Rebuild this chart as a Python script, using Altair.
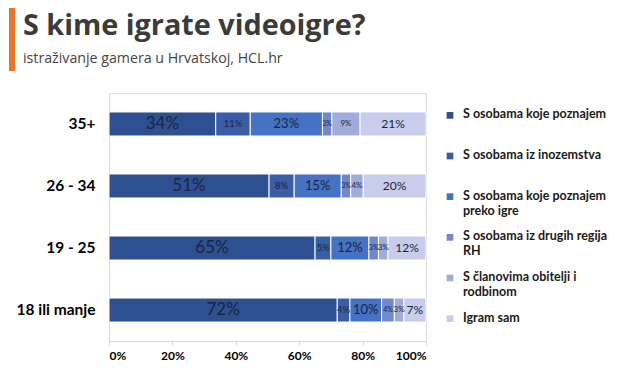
import altair as alt
import pandas as pd

title_text = "S kime igrate videoigre?"
subtitle_text = "istraživanje gamera u Hrvatskoj, HCL.hr"

ages = ["35+", "26 - 34", "19 - 25", "18 ili manje"]
series = [
    "S osobama koje poznajem",
    "S osobama iz inozemstva",
    "S osobama koje poznajem\npreko igre",
    "S osobama iz drugih regija\nRH",
    "S članovima obitelji i\nrodbinom",
    "Igram sam",
]
colors = ["#2E5090", "#3A5EA6", "#4472C4", "#7189CC", "#A0ACDA", "#C7CDEA"]
label_sizes = [17, 9.5, 13, 7, 8, 12]

v_35 = [34, 11, 23, 3, 9, 21]
v_26 = [51, 8, 15, 3, 4, 20]
v_19 = [65, 5, 12, 3, 3, 12]
v_18 = [72, 4, 10, 4, 3, 7]
values = [v_35, v_26, v_19, v_18]

rows = []
for a, vals in zip(ages, values):
    for i, (s, v) in enumerate(zip(series, vals)):
        rows.append({"age": a, "series": s, "order": i, "value": v})
df = pd.DataFrame(rows)
legend_df = pd.DataFrame({"series": series})
title_df = pd.DataFrame({"t": [title_text], "s": [subtitle_text]})

color_scale = alt.Scale(domain=series, range=colors)
FONT = "Lato"

base = alt.Chart(df).transform_stack(
    stack="value", groupby=["age"], as_=["v0", "v1"], offset="normalize",
    sort=[alt.SortField("order", order="ascending")],
).transform_calculate(mid="(datum.v0 + datum.v1) / 2", lbl="datum.value + '%'")

band = alt.Scale(paddingInner=0.613, paddingOuter=0.306)
y_axis = alt.Axis(labelFont=FONT, labelFontWeight="bold", labelFontSize=15.5,
                  labelColor="#000000", labelPadding=14, ticks=False,
                  domainColor="#D9D9D9")

bars = base.mark_bar(stroke="white", strokeWidth=1).encode(
    x=alt.X("v0:Q", scale=alt.Scale(domain=[0, 1], nice=False), title=None,
            axis=alt.Axis(values=[0, 0.2, 0.4, 0.6, 0.8, 1.0], format="%",
                          labelFont=FONT, labelFontWeight="bold", labelFontSize=12,
                          labelColor="#000000", grid=False, tickSize=4,
                          tickColor="#D9D9D9", domainColor="#D9D9D9", labelPadding=5)),
    x2="v1:Q",
    y=alt.Y("age:N", sort=ages, title=None, scale=band, axis=y_axis),
    color=alt.Color("series:N", scale=color_scale, legend=None),
)

labels = base.mark_text(font=FONT, color="#1B2440").encode(
    x=alt.X("mid:Q"),
    y=alt.Y("age:N", sort=ages, title=None, scale=band, axis=y_axis),
    text="lbl:N",
    size=alt.Size("series:N",
                  scale=alt.Scale(type="ordinal", domain=series, range=label_sizes),
                  legend=None),
)

main = alt.layer(bars, labels)

leg_y = alt.Y("series:N", sort=series, axis=None,
              scale=alt.Scale(type="point", padding=0.55))
leg_sym = alt.Chart(legend_df).mark_square(size=45, opacity=1).encode(
    x=alt.value(341), y=leg_y,
    color=alt.Color("series:N", scale=color_scale, legend=None),
)
leg_txt = alt.Chart(legend_df).mark_text(
    align="left", baseline="top", dy=-7, lineBreak="\n", font=FONT,
    fontWeight="bold", fontSize=12.5, color="#1a1a1a", lineHeight=15,
).encode(x=alt.value(354), y=leg_y, text="series:N")

accent = alt.Chart(pd.DataFrame({"a": [0]})).mark_rule(
    color="#EE7428", strokeWidth=6
).encode(x=alt.value(-97), y=alt.value(-85), y2=alt.value(-22))

title_mark = alt.Chart(title_df).mark_text(
    align="left", baseline="alphabetic", font="Open Sans", fontSize=28.8,
    fontWeight="bold", color="#3B3B3B",
).encode(x=alt.value(-86), y=alt.value(-58), text="t:N")

subtitle_mark = alt.Chart(title_df).mark_text(
    align="left", baseline="alphabetic", font="Open Sans", fontSize=14.2,
    color="#444444",
).encode(x=alt.value(-86), y=alt.value(-30), text="s:N")

chart = alt.layer(main, leg_sym, leg_txt, accent, title_mark, subtitle_mark).resolve_scale(
    y="independent"
).properties(
    width=317, height=248,
    autosize=alt.AutoSizeParams(type="none"),
    padding={"left": 101, "top": 85, "right": 191, "bottom": 31},
).configure_view(stroke=None).configure(background="white")

chart.save("out.html", embed_options={"renderer": "svg", "actions": False})
